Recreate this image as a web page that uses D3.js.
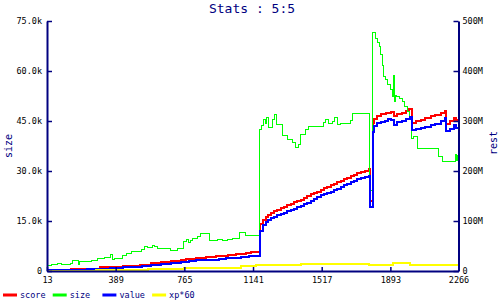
<!DOCTYPE html>
<html>
<head>
<meta charset="utf-8">
<script src="https://cdn.jsdelivr.net/npm/d3@7"></script>
<style>
  body { margin: 0; background: #fff; }
  text { font-family: "DejaVu Sans Mono", monospace; }
</style>
</head>
<body>
<div id="chart"></div>
<script>
// iteration ticks along the bottom
var xTicks = [13, 389, 765, 1141, 1517, 1893, 2266];
var sizeTicks = [0, 15000, 30000, 45000, 60000, 75000];
var restTicks = [0, 100, 200, 300, 400, 500]; // millions

// size (left axis)
var sizeIter = [13, 18, 40, 68, 95, 139, 155, 183, 193, 259, 292, 330, 358, 374, 385, 429, 450, 478, 532, 549, 565, 593, 604, 620, 691, 729, 762, 779, 790, 800, 811, 839, 855, 904, 948, 975, 1003, 1030, 1068, 1101,
  1178, 1189, 1200, 1211, 1216, 1227, 1249, 1260, 1271, 1304, 1331, 1358, 1375, 1391, 1402, 1429, 1446, 1528, 1539, 1555, 1577, 1588, 1604, 1621, 1675, 1686,
  1780, 1796, 1812, 1823, 1834, 1839, 1850, 1856, 1867, 1878, 1894, 1905, 1911, 1916, 1921, 1927, 1943, 1960, 1971, 1987, 1998, 2009, 2020, 2042, 2157, 2178, 2249, 2255, 2260, 2266];
var sizeVals = [1300, 1700, 2000, 2400, 1900, 2250, 3100, 1950, 3000, 3300, 3700, 4200, 4900, 3600, 3900, 4650, 5400, 6000, 6600, 7400, 7200, 7650, 7300, 6700, 6300, 6900, 8900, 9600, 8700, 9300, 9900, 10500, 11400, 9300, 9600, 9150, 9600, 9900, 11550, 10800,
  42600, 43800, 45600, 44400, 46200, 43200, 45600, 47100, 44100, 40800, 39600, 38700, 37200, 38100, 41100, 42600, 43300, 44700, 45600, 44400, 45000, 46200, 44100, 44400, 45300, 47200,
  24300, 71700, 69900, 68700, 67500, 65100, 61800, 58500, 57600, 56100, 54600, 52500, 58800, 51000, 52800, 52500, 51900, 51000, 49500, 48000, 46500, 39900, 40500, 36900, 34500, 33000, 35100, 33300, 34800, 34800];

// score (right axis, millions)
var scoreIter = [13, 144, 232, 303, 368, 429, 522, 582, 636, 664, 691, 718, 746, 773, 800, 828, 855, 882, 910, 937, 964, 1003, 1046, 1074, 1101, 1129, 1150,
  1178, 1194, 1211, 1222, 1238, 1254, 1271, 1293, 1309, 1325, 1347, 1364, 1380, 1402, 1418, 1435, 1457, 1473, 1489, 1511, 1528, 1544, 1566, 1582, 1599, 1621, 1637, 1653, 1675, 1692, 1708, 1730, 1752, 1774, 1780,
  1796, 1801, 1818, 1839, 1867, 1894, 1911, 1932, 1954, 1976, 1993, 2009, 2031, 2058, 2085, 2113, 2140, 2168, 2190, 2195, 2222, 2239, 2255, 2266];
var scoreVals = [1.4, 3.4, 4.6, 7.4, 8.6, 10.6, 13, 15.4, 18, 19, 20, 21, 22, 23.4, 24.6, 26, 27, 28, 28.6, 29.6, 30.6, 32, 33.4, 34.4, 35.4, 38, 39,
  94, 102, 108, 112, 116, 120, 122, 126, 128, 132, 134, 138, 140, 142, 146, 150, 154, 156, 158, 162, 166, 168, 172, 174, 178, 180, 184, 186, 190, 192, 196, 198, 200, 204, 141,
  296, 304, 310, 314, 316, 318, 310, 314, 316, 320, 324, 296, 300, 302, 306, 310, 312, 316, 320, 294, 300, 306, 302, 302];

// value (right axis, millions)
var valueIter = [13, 144, 232, 358, 429, 532, 582, 636, 691, 746, 790, 828, 871, 910, 953, 992, 1030, 1074, 1118, 1156,
  1178, 1194, 1211, 1222, 1238, 1254, 1271, 1293, 1309, 1325, 1347, 1364, 1380, 1402, 1418, 1435, 1457, 1473, 1489, 1511, 1528, 1544, 1566, 1582, 1599, 1621, 1637, 1653, 1675, 1692, 1708, 1730, 1752, 1774, 1780,
  1796, 1801, 1818, 1839, 1861, 1878, 1894, 1911, 1932, 1954, 1976, 2003, 2009, 2031, 2058, 2085, 2113, 2140, 2168, 2190, 2195, 2222, 2239, 2255, 2266];
var valueVals = [1.4, 2.6, 4.6, 6.6, 8.6, 11, 13, 15, 16.4, 18, 20, 21.4, 22, 22.6, 24, 25.4, 27, 28.6, 30, 31,
  80, 93, 98, 102, 106, 108, 112, 114, 116, 120, 122, 124, 128, 130, 134, 136, 140, 144, 148, 152, 154, 156, 158, 162, 164, 168, 172, 174, 178, 180, 184, 186, 188, 190, 128,
  278, 290, 296, 298, 300, 304, 302, 292, 298, 300, 304, 308, 282, 284, 286, 289, 292, 295, 300, 306, 280, 284, 292, 286, 286];

// xp*60 (right axis, millions)
var xpIter = [13, 281, 565, 762, 1074, 1156, 1227, 1402, 1774, 1905, 1998, 2266];
var xpVals = [0.6, 1.4, 3.4, 6, 9.4, 11.4, 12, 14, 11.4, 16, 11.4, 11.4];

var navy = "#000080";
var svg = d3.select("#chart").append("svg")
    .attr("width", 500)
    .attr("height", 300);

var x = d3.scaleLinear().domain([13, 2266]).range([47, 458.5]);
var yL = d3.scaleLinear().domain([0, 75000]).range([271, 21]);
var yR = d3.scaleLinear().domain([0, 500]).range([271, 21]);

function fmtK(d) { return d === 0 ? "0" : (d / 1000).toFixed(1) + "k"; }
function fmtM(d) { return d === 0 ? "0" : d + "M"; }

function styleAxis(g) {
    g.attr("font-family", null).attr("font-size", null);
    g.select(".domain").attr("stroke", navy).attr("stroke-width", 2);
    g.selectAll(".tick line").attr("stroke", navy).attr("stroke-width", 1.5);
    g.selectAll("text").attr("fill", "#000").style("font-size", "8.5px");
}

// series, drawn in legend order
function series(iter, vals, yScale) {
    return iter.map(function (d, i) { return [x(d), yScale(vals[i])]; });
}
var line = d3.line().curve(d3.curveStepAfter);
var lines = [
    {pts: series(scoreIter, scoreVals, yR), color: "#ff0000", w: 2},
    {pts: series(sizeIter, sizeVals, yL), color: "#00ff00", w: 1},
    {pts: series(valueIter, valueVals, yR), color: "#0000ff", w: 2},
    {pts: series(xpIter, xpVals, yR), color: "#ffff00", w: 2}
];
svg.selectAll(".series")
    .data(lines)
    .enter().append("path")
    .attr("class", "series")
    .attr("d", function (d) { return line(d.pts); })
    .attr("fill", "none")
    .attr("stroke", function (d) { return d.color; })
    .attr("stroke-width", function (d) { return d.w; })
    .attr("shape-rendering", "crispEdges");

// axes
svg.append("g")
    .attr("transform", "translate(0,271)")
    .call(d3.axisBottom(x).tickValues(xTicks).tickFormat(d3.format("d"))
        .tickSizeInner(-4).tickSizeOuter(0).tickPadding(6))
    .call(styleAxis);

svg.append("g")
    .attr("transform", "translate(47,0)")
    .call(d3.axisLeft(yL).tickValues(sizeTicks).tickFormat(fmtK)
        .tickSizeInner(-5).tickSizeOuter(0).tickPadding(5))
    .call(styleAxis);

svg.append("g")
    .attr("transform", "translate(458.5,0)")
    .call(d3.axisRight(yR).tickValues(restTicks).tickFormat(fmtM)
        .tickSizeInner(-5).tickSizeOuter(0).tickPadding(4))
    .call(styleAxis);

// title and axis names
svg.append("text")
    .attr("x", 252).attr("y", 13)
    .attr("text-anchor", "middle")
    .attr("fill", navy)
    .style("font-size", "13px")
    .text("Stats : 5:5");

svg.append("text")
    .attr("transform", "translate(12,146) rotate(-90)")
    .attr("text-anchor", "middle")
    .attr("fill", navy)
    .style("font-size", "10px")
    .text("size");

svg.append("text")
    .attr("transform", "translate(497,143) rotate(-90)")
    .attr("text-anchor", "middle")
    .attr("fill", navy)
    .style("font-size", "10px")
    .text("rest");

// legend
var legendNames = ["score", "size", "value", "xp*60"];
var legend = svg.selectAll(".legend")
    .data(legendNames)
    .enter().append("g")
    .attr("class", "legend")
    .attr("transform", function (d, i) { return "translate(" + (3 + i * 49.7) + ",295)"; });
legend.append("line")
    .attr("x1", 0).attr("x2", 14)
    .attr("stroke", function (d, i) { return lines[i].color; })
    .attr("stroke-width", 3);
legend.append("text")
    .attr("x", 17).attr("dy", "0.32em")
    .attr("fill", navy)
    .style("font-size", "8.5px")
    .text(function (d) { return d; });
</script>
</body>
</html>
